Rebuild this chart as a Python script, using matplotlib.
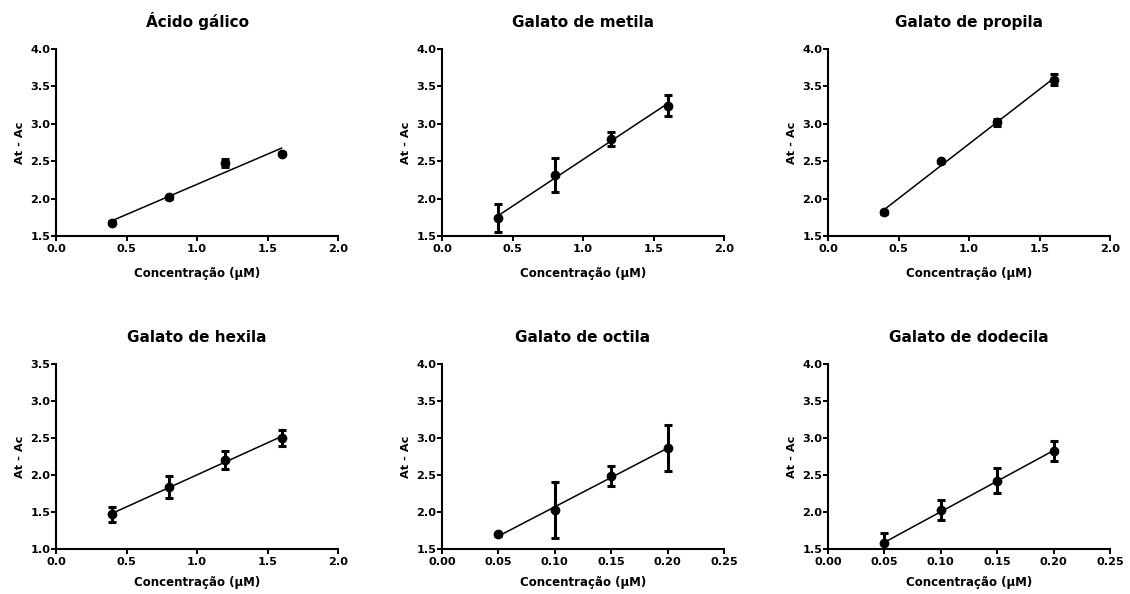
import numpy as np
import matplotlib
matplotlib.use("Agg")
import matplotlib.pyplot as plt

plt.rcParams['font.family'] = ['DejaVu Sans']
plt.rcParams['font.weight'] = 'bold'

titles = ["Ácido gálico", "Galato de metila", "Galato de propila",
          "Galato de hexila", "Galato de octila", "Galato de dodecila"]

x_high = [0.4, 0.8, 1.2, 1.6]
x_low = [0.05, 0.10, 0.15, 0.20]

y_acido = [1.674, 2.018, 2.473, 2.598]
e_acido = [0.02, 0.02, 0.055, 0.02]
y_metila = [1.737, 2.317, 2.795, 3.241]
e_metila = [0.19, 0.23, 0.09, 0.14]
y_propila = [1.817, 2.496, 3.022, 3.589]
e_propila = [0.02, 0.02, 0.045, 0.074]
y_hexila = [1.470, 1.836, 2.199, 2.503]
e_hexila = [0.10, 0.15, 0.12, 0.105]
y_octila = [1.697, 2.025, 2.487, 2.864]
e_octila = [0.02, 0.377, 0.135, 0.316]
y_dodecila = [1.576, 2.021, 2.425, 2.820]
e_dodecila = [0.137, 0.135, 0.164, 0.135]

xs = [x_high, x_high, x_high, x_high, x_low, x_low]
ys = [y_acido, y_metila, y_propila, y_hexila, y_octila, y_dodecila]
es = [e_acido, e_metila, e_propila, e_hexila, e_octila, e_dodecila]

ylims = [(1.5, 4.0), (1.5, 4.0), (1.5, 4.0), (1.0, 3.5), (1.5, 4.0), (1.5, 4.0)]
xlims = [(0, 2.0)] * 4 + [(0, 0.25)] * 2
xticks_high = [0.0, 0.5, 1.0, 1.5, 2.0]
xticks_low = [0.00, 0.05, 0.10, 0.15, 0.20, 0.25]
xtick_sets = [xticks_high] * 4 + [xticks_low] * 2
xfmt = ["%.1f"] * 4 + ["%.2f"] * 2

W, H = 1130, 594
fig = plt.figure(figsize=(W / 100, H / 100), dpi=100)

lefts = [56, 442, 828]
rows = [(49, 236), (364, 549)]
xlabel_pads = [9, 6.5]
width = 282

for i in range(6):
    r, c = divmod(i, 3)
    top, bot = rows[r]
    ax = fig.add_axes([lefts[c] / W, 1 - bot / H, width / W, (bot - top) / H])
    x = np.array(xs[i]); y = np.array(ys[i])
    ax.errorbar(x, y, yerr=es[i], fmt='o', color='black', ms=6,
                elinewidth=2.2, capsize=3, capthick=2.2, zorder=3)
    k, b = np.polyfit(x, y, 1)
    xl = np.array([x.min(), x.max()])
    ax.plot(xl, k * xl + b, color='black', lw=1.1, zorder=2)
    ax.set_xlim(*xlims[i]); ax.set_ylim(*ylims[i])
    ax.set_xticks(xtick_sets[i])
    ax.set_xticklabels([xfmt[i] % v for v in xtick_sets[i]])
    yt = np.arange(ylims[i][0], ylims[i][1] + 0.01, 0.5)
    ax.set_yticks(yt)
    ax.set_yticklabels(["%.1f" % v for v in yt])
    for s in ['top', 'right']:
        ax.spines[s].set_visible(False)
    for s in ['left', 'bottom']:
        ax.spines[s].set_linewidth(1.5)
    ax.tick_params(axis='x', direction='out', length=3.3, width=1.4, labelsize=8.1, pad=2.5)
    ax.tick_params(axis='y', direction='out', length=3.3, width=1.4, labelsize=8.1, pad=0.8)
    for lbl in ax.get_xticklabels() + ax.get_yticklabels():
        lbl.set_fontweight('bold')
    ax.set_title(titles[i], fontsize=11, fontweight='bold', pad=16)
    ax.set_xlabel("Concentração (µM)", fontsize=8.5, fontweight='bold',
                  labelpad=xlabel_pads[r])
    ax.set_ylabel("At - Ac", fontsize=8.2, fontweight='bold', labelpad=4)

fig.savefig("out.png", dpi=100)
